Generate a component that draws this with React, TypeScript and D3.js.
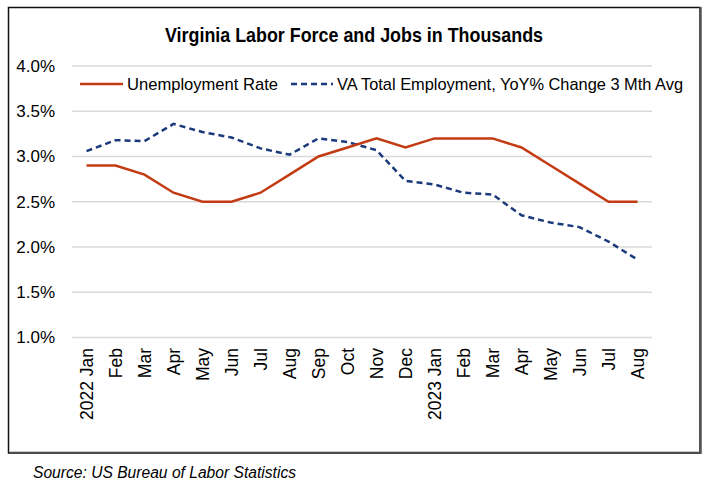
import React from "react";
import * as d3 from "d3";

const months = [
  "2022 Jan", "Feb", "Mar", "Apr", "May", "Jun", "Jul", "Aug", "Sep", "Oct", "Nov", "Dec",
  "2023 Jan", "Feb ", "Mar ", "Apr ", "May ", "Jun ", "Jul ", "Aug ",
];
const unemploymentRate = [2.9, 2.9, 2.8, 2.6, 2.5, 2.5, 2.6, 2.8, 3.0, 3.1, 3.2, 3.1, 3.2, 3.2, 3.2, 3.1, 2.9, 2.7, 2.5, 2.5];
const vaEmploymentYoY = [3.06, 3.18, 3.17, 3.36, 3.27, 3.21, 3.09, 3.02, 3.2, 3.16, 3.07, 2.73, 2.69, 2.6, 2.58, 2.35, 2.27, 2.22, 2.06, 1.86];
const yTicks = [1.0, 1.5, 2.0, 2.5, 3.0, 3.5, 4.0];

const TITLE = "Virginia Labor Force and Jobs in Thousands";
const SERIES1 = "Unemployment Rate";
const SERIES2 = "VA Total Employment, YoY% Change 3 Mth Avg";
const SOURCE = "Source: US Bureau of Labor Statistics";

const RED = "#C23B12";
const BLUE = "#1B3A7C";
const FONT = "'Liberation Sans', Arial, sans-serif";
const NARROW = "'Liberation Sans Narrow', 'Arial Narrow', 'Liberation Sans', sans-serif";

export default function App() {
  const W = 705, H = 483;
  const x = d3.scalePoint<string>().domain(months).range([72, 652]).padding(0.5);
  const y = d3.scaleLinear().domain([1, 4]).range([337.5, 66]);
  const line = d3.line<number>().x((_, i) => x(months[i])!).y((d) => y(d));

  return (
    <svg width={W} height={H} style={{ position: "absolute", left: 0, top: 0, background: "#fff" }}>
      <rect x={0} y={0} width={W} height={H} fill="#fff" />
      {/* frame */}
      <rect x={8.5} y={7.5} width={691.5} height={445.5} fill="none" stroke="#111" strokeWidth={1.5} />
      <line x1={700.5} y1={7} x2={700.5} y2={454} stroke="#555" strokeWidth={2.5} />
      <line x1={9} y1={451.5} x2={699} y2={451.5} stroke="#ccc" strokeWidth={1} />

      <text x={354} y={42} textAnchor="middle" fontFamily={NARROW} fontWeight="bold" fontSize={21}
        textLength={378} lengthAdjust="spacingAndGlyphs" fill="#000">{TITLE}</text>

      {/* gridlines */}
      {yTicks.map((t) => (
        <g key={t}>
          <line x1={72} x2={652} y1={y(t)} y2={y(t)} stroke="#d9d9d9" strokeWidth={1.5} />
          <text x={55} y={y(t)} dy="0.35em" textAnchor="end" fontFamily={FONT} fontSize={17} fill="#000">
            {d3.format(".1f")(t) + "%"}
          </text>
        </g>
      ))}

      {/* x labels */}
      {months.map((m) => (
        <text key={m} transform={`translate(${x(m)! + 6},348) rotate(-90)`} textAnchor="end"
          fontFamily={FONT} fontSize={17.5} fill="#000">{m.trim()}</text>
      ))}

      {/* lines */}
      <path d={line(vaEmploymentYoY) || ""} fill="none" stroke={BLUE} strokeWidth={2.5} strokeDasharray="6,4" />
      <path d={line(unemploymentRate) || ""} fill="none" stroke={RED} strokeWidth={2.5} />

      {/* legend */}
      <line x1={80} x2={123} y1={84} y2={84} stroke={RED} strokeWidth={2.5} />
      <text x={127} y={90} fontFamily={FONT} fontSize={17} textLength={151} lengthAdjust="spacingAndGlyphs" fill="#000">{SERIES1}</text>
      <line x1={291} x2={333} y1={84} y2={84} stroke={BLUE} strokeWidth={2.5} strokeDasharray="6,4" />
      <text x={337} y={90} fontFamily={FONT} fontSize={17} textLength={346} lengthAdjust="spacingAndGlyphs" fill="#000">{SERIES2}</text>

      <text x={33} y={478} fontFamily={NARROW} fontStyle="italic" fontSize={16} textLength={263}
        lengthAdjust="spacingAndGlyphs" fill="#000">{SOURCE}</text>
    </svg>
  );
}
